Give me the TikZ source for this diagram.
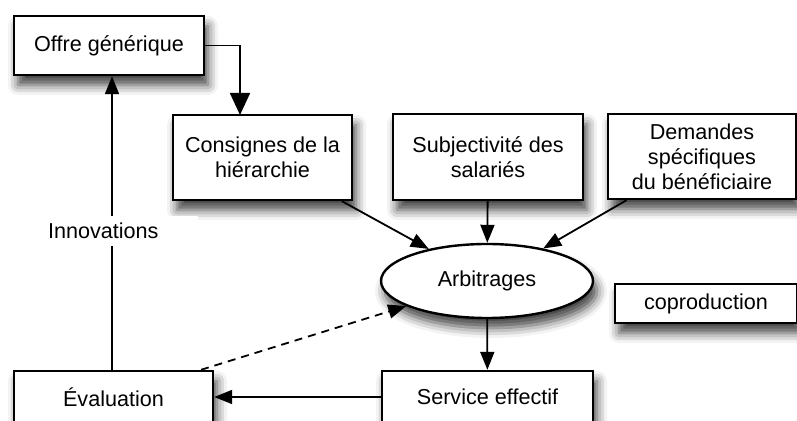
\documentclass[tikz,border=0pt]{standalone}
\usepackage{fontspec}
\setmainfont{Liberation Sans}
\usetikzlibrary{arrows.meta,shapes.geometric,shadows.blur}

\begin{document}
\begin{tikzpicture}[x=0.5pt,y=-0.5pt,font=\fontsize{10.8}{12.5}\selectfont,
  box/.style={draw,line width=1.2pt,fill=white,align=center,inner sep=0pt,
    blur shadow={shadow xshift=2pt,shadow yshift=-5pt,shadow blur radius=5pt,shadow opacity=75}},
  link/.style={line width=0.9pt,-{Triangle[length=9pt,width=7pt]}}]
\useasboundingbox (0,0) rectangle (797,421);
%\draw[help lines] (0,0) grid[step=50] (797,421);
\node (offre) [box,minimum width=95pt,minimum height=29.5pt] at (109,45.5) {Offre générique};
\node (consignes) [box,minimum width=89.5pt,minimum height=42.5pt] at (262.5,157.5) {Consignes de la\\hiérarchie};
\node (subj) [box,minimum width=95pt,minimum height=43pt] at (488,157) {Subjectivité des\\salariés};
\node (demandes) [box,minimum width=94pt,minimum height=42.5pt] at (702,156.5) {Demandes\\spécifiques\\du bénéficiaire};
\node (arbitrages) [box,ellipse,minimum width=106pt,minimum height=37pt] at (487,281) {Arbitrages};
\node (coprod) [box,minimum width=91pt,minimum height=19.5pt] at (706,303.5) {coproduction};
\node (evaluation) [box,minimum width=99.5pt,minimum height=26pt] at (113.5,397) {Évaluation};
\node (service) [box,minimum width=105.5pt,minimum height=26pt] at (487.5,397) {Service effectif};
\coordinate (cin) at (240,115);
\coordinate (up) at (112,0);
\path [link]
(offre.east) edge [-] (offre.east -| cin)
(offre.east -| cin) edge [-{Triangle[length=11pt,width=10pt]}] (cin)
(evaluation.north -| up) edge (offre.south -| up)
(consignes) edge (arbitrages)
(subj) edge (arbitrages)
(demandes) edge (arbitrages)
(arbitrages) edge (service)
(service) edge (evaluation)
(evaluation) edge [dash pattern=on 4pt off 3pt] (arbitrages);
\node (innov) [fill=white,text width=71pt,inner xsep=4pt,align=left,minimum height=14pt] at (119,231) {Innovations};
\end{tikzpicture}
\end{document}
